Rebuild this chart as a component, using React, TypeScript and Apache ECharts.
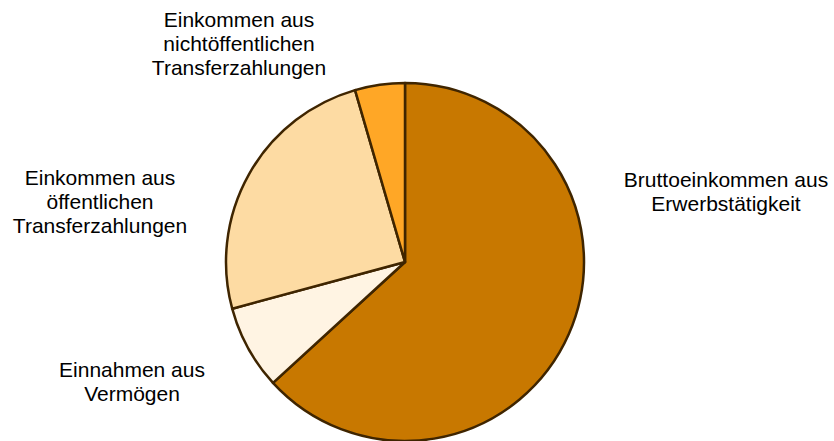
import React, { useEffect, useRef } from "react";
import * as echarts from "echarts";

const categories = [
  "Bruttoeinkommen aus\nErwerbstätigkeit",
  "Einnahmen aus\nVermögen",
  "Einkommen aus\nöffentlichen\nTransferzahlungen",
  "Einkommen aus\nnichtöffentlichen\nTransferzahlungen",
];
const values = [63.2, 7.6, 24.7, 4.5];
const colors = ["#C87800", "#FFF4E3", "#FDDBA3", "#FFA726"];
// label centre positions (px) relative to the page
const labelPos = [
  [726, 191],
  [132, 381],
  [100, 201],
  [239, 43],
];

export default function App() {
  const ref = useRef<HTMLDivElement>(null);
  useEffect(() => {
    if (!ref.current) return;
    const chart = echarts.init(ref.current, undefined, { renderer: "svg" });
    chart.setOption({
      animation: false,
      backgroundColor: "#ffffff",
      series: [
        {
          type: "pie",
          center: [405, 262],
          radius: 179,
          startAngle: 90,
          clockwise: true,
          data: categories.map((name, i) => ({
            name,
            value: values[i],
            itemStyle: { color: colors[i] },
          })),
          itemStyle: { borderColor: "#3F2500", borderWidth: 2.5 },
          label: {
            show: true,
            position: "outside",
            formatter: "{b}",
            fontFamily: "Liberation Sans, Arial, sans-serif",
            fontSize: 21,
            lineHeight: 24,
            color: "#000000",
            align: "center",
          },
          labelLine: { show: false },
          labelLayout: (params: any) => {
            const p = labelPos[params.dataIndex];
            return { x: p[0], y: p[1], align: "center", verticalAlign: "middle" };
          },
          emphasis: { disabled: true },
        },
      ],
    });
    return () => chart.dispose();
  }, []);
  return (
    <div
      ref={ref}
      style={{ position: "fixed", left: 0, top: 0, width: 834, height: 441 }}
    />
  );
}
